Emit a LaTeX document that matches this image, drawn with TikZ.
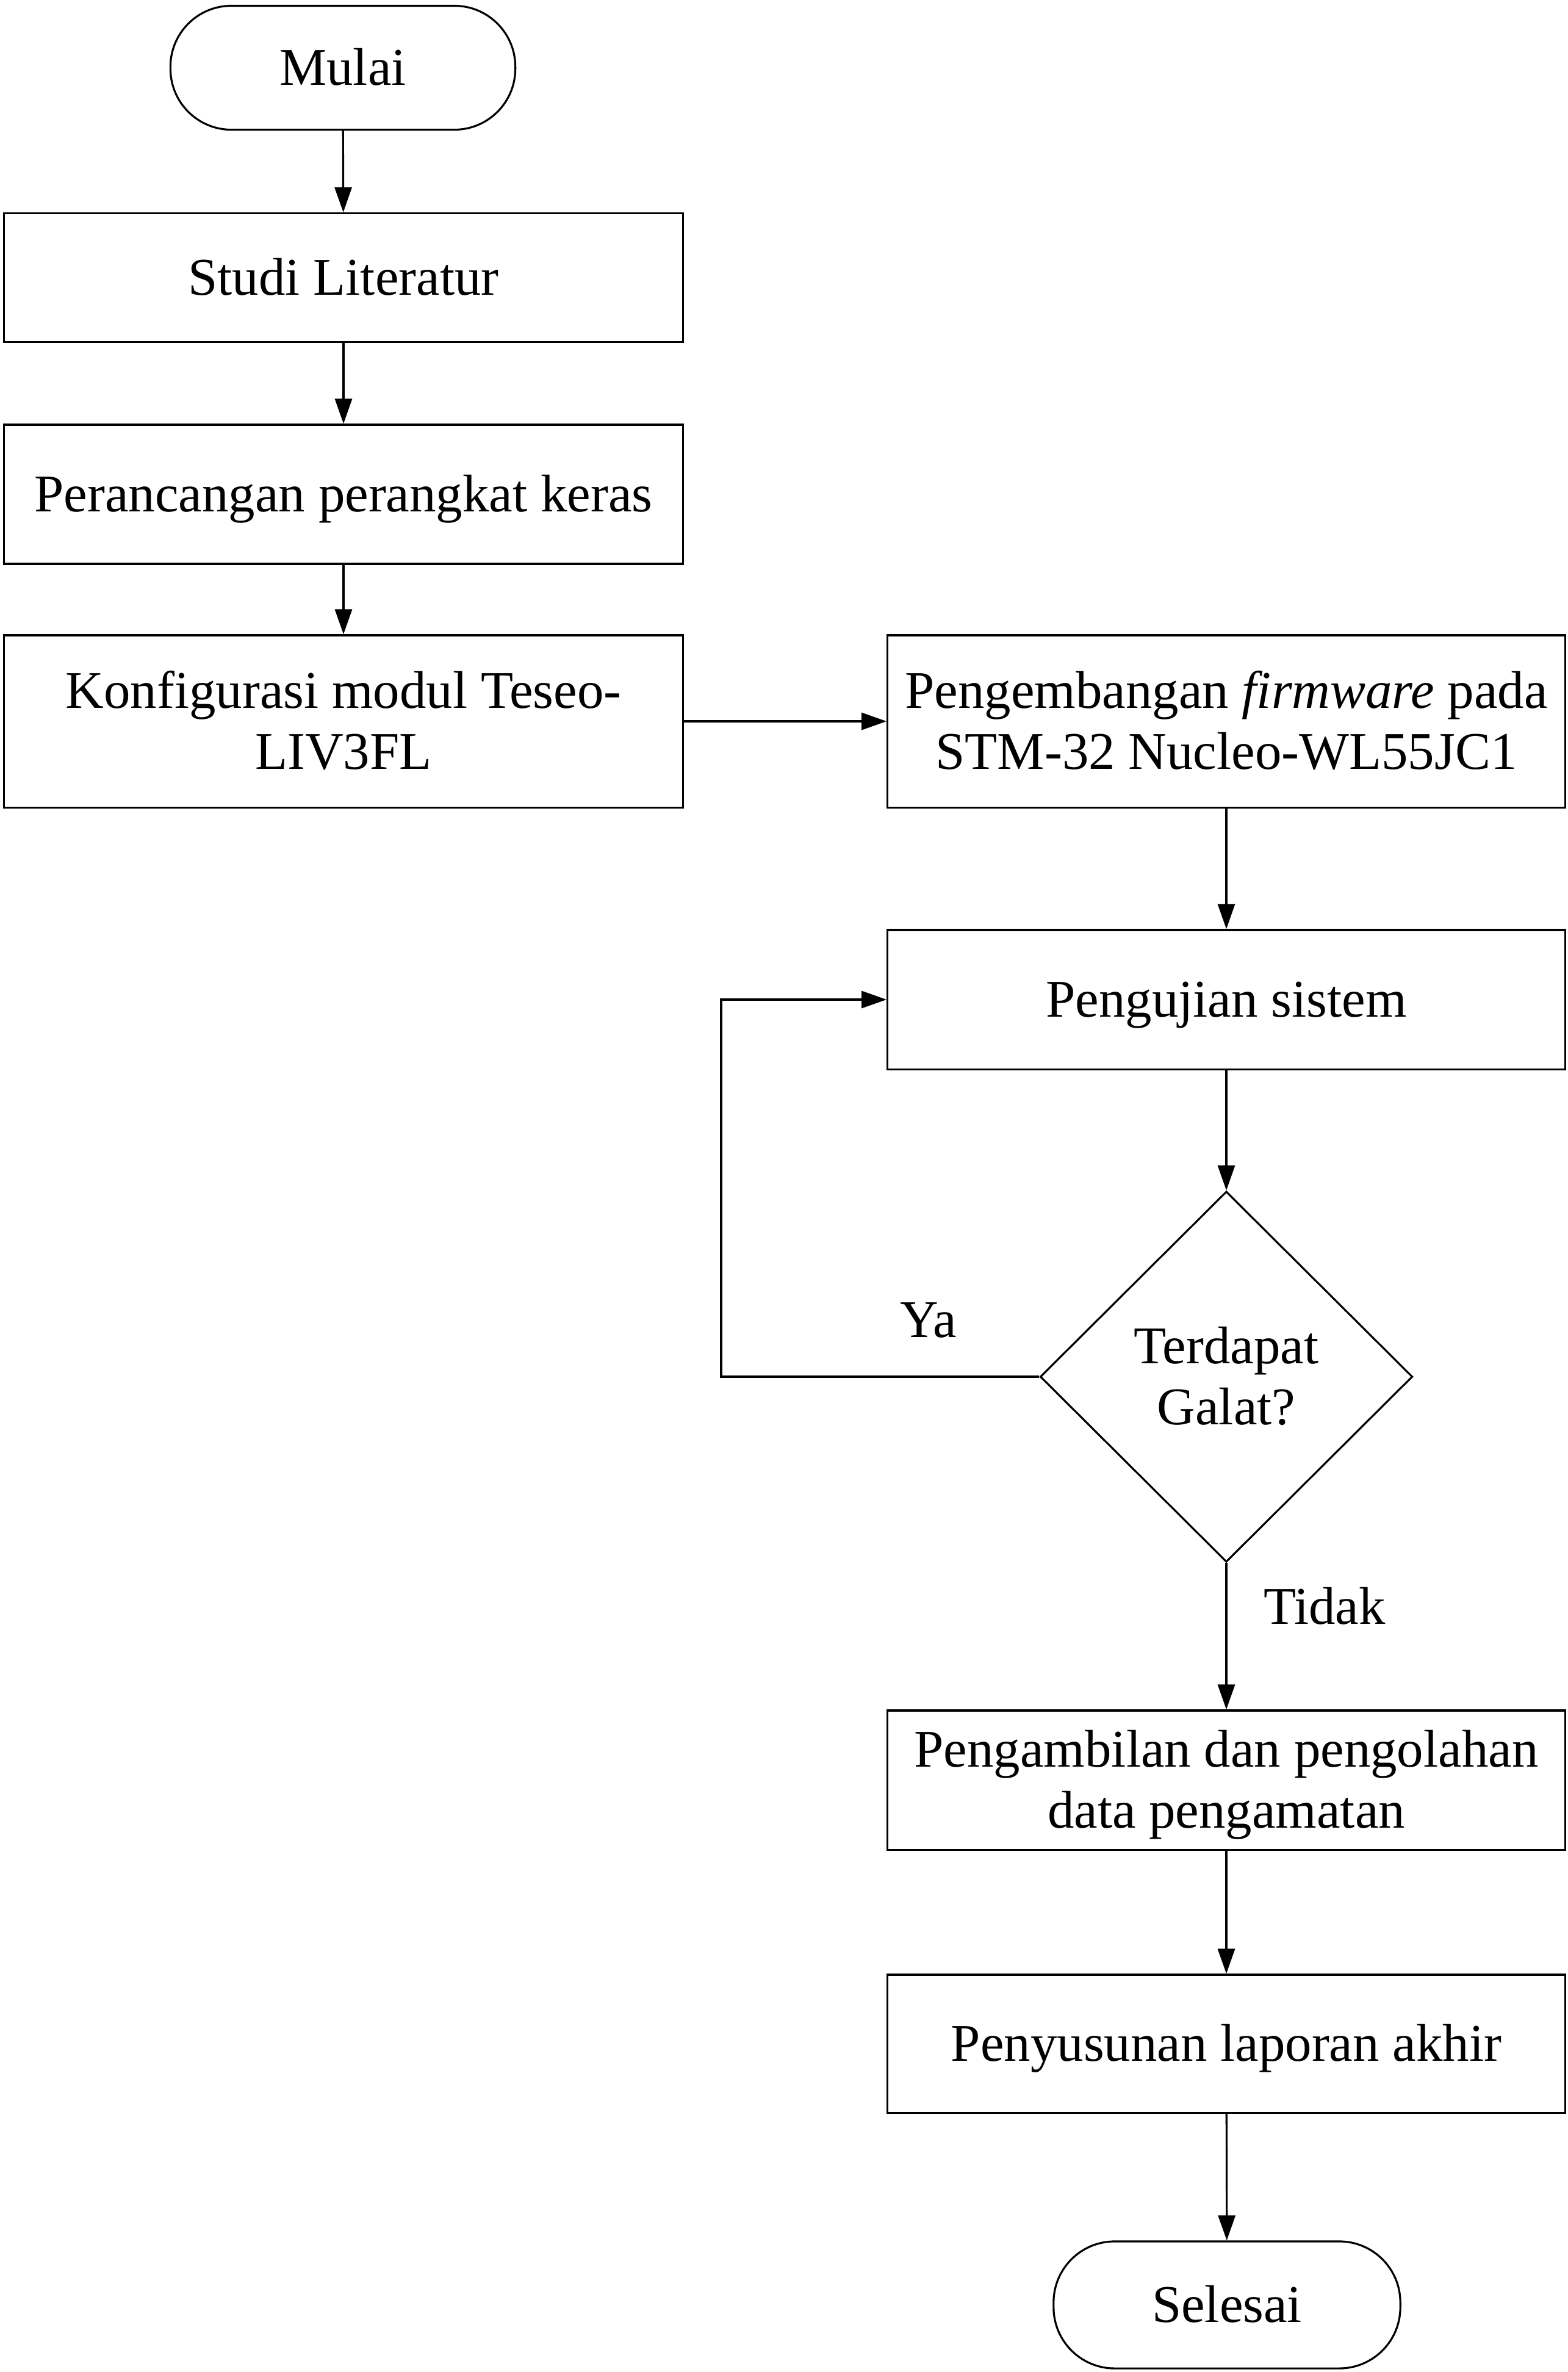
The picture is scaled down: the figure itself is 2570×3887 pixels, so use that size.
\documentclass[tikz,border=0pt]{standalone}
\usepackage{fontspec}
\setmainfont{Liberation Serif}
\usetikzlibrary{shapes.geometric,arrows.meta}
\newcommand\lnstrut{\rule[-6.05pt]{0pt}{28.5pt}}
\begin{document}
\begin{tikzpicture}[x=0.01cm,y=-0.01cm,
  every node/.style={font=\fontsize{24.7}{28.5}\selectfont},
  proc/.style={draw,line width=0.9pt,rectangle,minimum width=11.1cm,align=center,inner sep=0pt},
  term/.style={draw,line width=0.9pt,rectangle,rounded corners=1.0cm,align=center,inner sep=0pt},
  dec/.style={draw,line width=0.9pt,diamond,minimum width=6.1cm,minimum height=6.07cm,align=center,inner sep=0pt},
  arr/.style={line width=0.9pt,-{Triangle[length=0.41cm,width=0.28cm]}},
  lbl/.style={inner sep=0pt}]
\useasboundingbox (0,0) rectangle (2570,3887);
\node[term,minimum width=5.65cm,minimum height=2.03cm] (mulai) at (562,111) {Mulai\lnstrut};
\node[proc,minimum width=11.13cm,minimum height=2.11cm] (studi) at (563,455) {Studi Literatur\lnstrut};
\node[proc,minimum width=11.13cm,minimum height=2.28cm] (peran) at (563,810) {Perancangan perangkat keras\lnstrut};
\node[proc,minimum width=11.13cm,minimum height=2.82cm] (konf) at (563,1182) {Konfigurasi modul Teseo-\lnstrut\\LIV3FL\lnstrut};
\node[proc,minimum height=2.82cm] (peng) at (2010,1182) {Pengembangan \textit{firmware} pada\lnstrut\\STM-32 Nucleo-WL55JC1\lnstrut};
\node[proc,minimum height=2.28cm] (uji) at (2010,1638) {Pengujian sistem\lnstrut};
\node[dec] (cek) at (2010,2256) {Terdapat\lnstrut\\Galat?\lnstrut};
\node[proc,minimum height=2.28cm] (ambil) at (2010,2917) {Pengambilan dan pengolahan\lnstrut\\data pengamatan\lnstrut};
\node[proc,minimum height=2.26cm] (susun) at (2010,3349) {Penyusunan laporan akhir\lnstrut};
\node[term,minimum width=5.68cm,minimum height=2.08cm] (selesai) at (2011,3777) {Selesai\lnstrut};
\node[lbl] (ya) at (1522,2163) {Ya};
\node[lbl] (tidak) at (2171,2632) {Tidak};
\coordinate (loopx) at (1182,0);
\draw[arr] (mulai) -- (studi);
\draw[arr] (studi) -- (peran);
\draw[arr] (peran) -- (konf);
\draw[arr] (konf) -- (peng);
\draw[arr] (peng) -- (uji);
\draw[arr] (uji) -- (cek);
\draw[arr] (cek.west) -- (cek.west -| loopx) |- (uji.west);
\draw[arr] (cek) -- (ambil);
\draw[arr] (ambil) -- (susun);
\draw[arr] (susun) -- (selesai);
\end{tikzpicture}
\end{document}
